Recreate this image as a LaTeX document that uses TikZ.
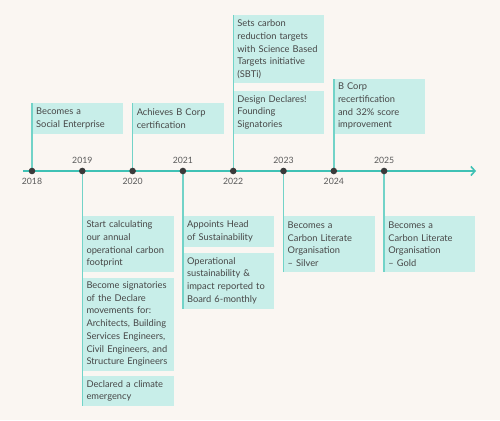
\documentclass[tikz,border=0pt]{standalone}
\usepackage{fontspec}
\setmainfont{Lato}
\usepackage{xcolor}
\usepackage{tikz}
\usetikzlibrary{arrows.meta,positioning}
\definecolor{paper}{HTML}{FAF6F2}
\definecolor{axisteal}{HTML}{3FC1B5}
\definecolor{stemteal}{HTML}{72D3C8}
\definecolor{boxteal}{HTML}{C8EEE9}
\definecolor{dotgray}{HTML}{3A3A3A}
\colorlet{inkgray}{black!72}
\colorlet{yeargray}{black!65}

\begin{document}
\begin{tikzpicture}[x=1pt,y=1pt,
  event/.style={fill=boxteal,text=inkgray,font=\fontsize{9.3}{12.7}\selectfont,
    align=left,text width=83pt,inner xsep=4pt,inner ysep=0pt},
  stem/.style={stemteal,line width=1.4pt},
  axisline/.style={axisteal,line width=1.8pt,-{Straight Barb[length=4pt,width=9pt,line width=1.6pt]}},
  dot/.style={circle,fill=dotgray,minimum size=6.6pt,inner sep=0pt},
  year/.style={text=yeargray,font=\fontsize{8.7}{10}\selectfont,inner sep=0pt}]
\fill[paper] (0,0) rectangle (500,420);
% year positions on the axis
\foreach \yr [count=\i from 0] in {2018,...,2025}
  \coordinate (y\yr) at ({32+50.3*\i},249);
\coordinate (axstart) at (23,249);
\coordinate (axend) at (476,249);
% events above the axis
\node[event,minimum height=31pt,above right=37pt and 0pt of y2018] (socent) {Becomes a\\Social Enterprise};
\node[event,minimum height=31pt,above right=37pt and 0pt of y2020] (bcorp) {Achieves B Corp\\certification};
\node[event,minimum height=43pt,above right=37pt and 0pt of y2022] (declares) {Design Declares!\\Founding\\Signatories};
\node[event,minimum height=68pt,above right=7pt and 0pt of declares.north west] (sbti) {Sets carbon\\reduction targets\\with Science Based\\Targets initiative\\(SBTi)};
\node[event,minimum height=55pt,above right=37pt and 0pt of y2024] (recert) {B Corp\\recertification\\and 32\% score\\improvement};
% events below the axis
\node[event,minimum height=56pt,below right=45pt and 0pt of y2019] (footprint) {Start calculating\\our annual\\operational carbon\\footprint};
\node[event,minimum height=93pt,below right=5pt and 0pt of footprint.south west] (declare) {Become signatories\\of the Declare\\movements for:\\Architects, Building\\Services Engineers,\\Civil Engineers, and\\Structure Engineers};
\node[event,minimum height=30pt,below right=5pt and 0pt of declare.south west] (emergency) {Declared a climate\\emergency};
\node[event,minimum height=31pt,below right=45pt and 0pt of y2021] (head) {Appoints Head\\of Sustainability};
\node[event,minimum height=56pt,below right=5pt and 0pt of head.south west] (board) {Operational\\sustainability \&\\impact reported to\\Board 6-monthly};
\node[event,minimum height=56pt,below right=45pt and 0pt of y2023] (silver) {Becomes a\\Carbon Literate\\Organisation\\– Silver};
\node[event,minimum height=56pt,below right=45pt and 0pt of y2025] (gold) {Becomes a\\Carbon Literate\\Organisation\\– Gold};
% stems
\draw[stem] (y2018) -- (socent.north west);
\draw[stem] (y2020) -- (bcorp.north west);
\draw[stem] (y2022) -- (sbti.north west);
\draw[stem] (y2024) -- (recert.north west);
\draw[stem] (y2019) -- (emergency.south west);
\draw[stem] (y2021) -- (board.south west);
\draw[stem] (y2023) -- (silver.south west);
\draw[stem] (y2025) -- (gold.south west);
\draw[axisline] (axstart) -- (axend);
% dots and year labels
\foreach \yr/\side in {2018/below,2019/above,2020/below,2021/above,2022/below,2023/above,2024/below,2025/above}{
  \node[dot] (d\yr) at (y\yr) {};
  \node[year,\side=3.5pt of d\yr] (l\yr) {\yr};
}
\end{tikzpicture}
\end{document}
